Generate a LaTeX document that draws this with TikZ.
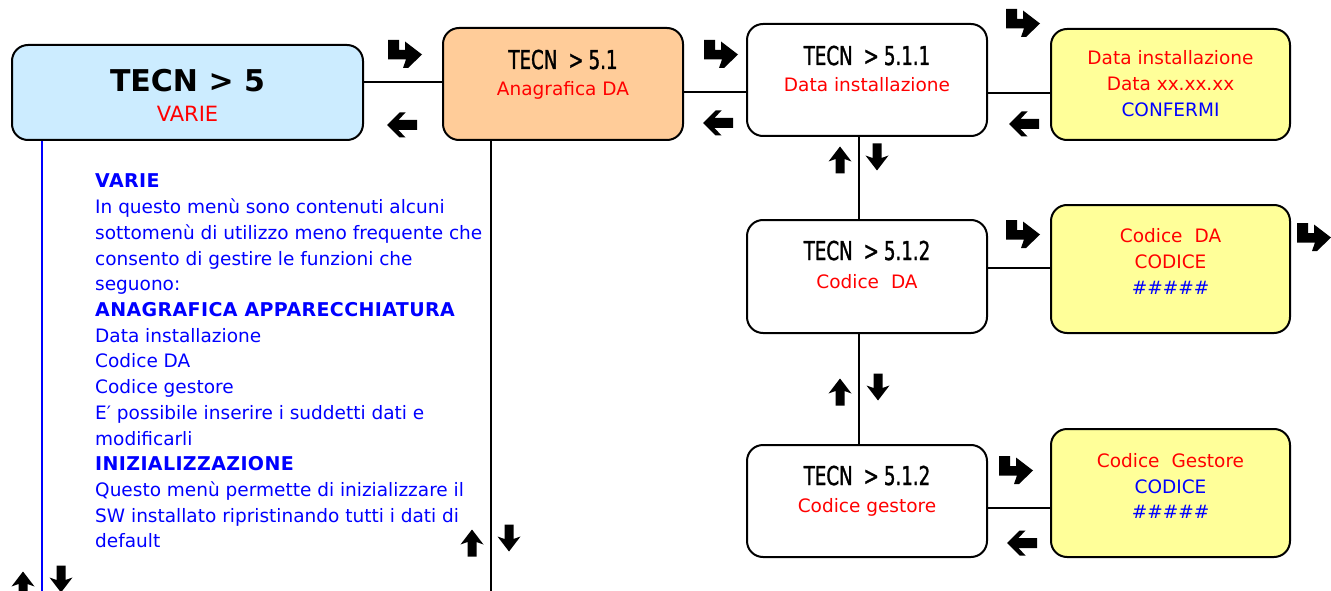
\documentclass[tikz,border=0pt]{standalone}
\usepackage{fontspec}
\setmainfont{DejaVu Sans}
\newfontfamily\condfont{DejaVu Sans}[FakeStretch=0.7, FakeBold=1.2]
\definecolor{boxblue}{HTML}{CCECFF}
\definecolor{boxorange}{HTML}{FFCC99}
\definecolor{boxyellow}{HTML}{FFFF99}
\definecolor{txtred}{HTML}{FF0000}
\definecolor{txtblue}{HTML}{0000FF}
\tikzset{
  box/.style={draw=black, line width=2pt, rounded corners=16pt, inner sep=0pt},
  conn/.style={draw=black, line width=1.5pt},
  ttl/.style={anchor=base, inner sep=0pt, font=\condfont\fontsize{26}{26}\selectfont},
  rtxt/.style={anchor=base, inner sep=0pt, text=txtred, font=\fontsize{18.5}{18.5}\selectfont},
  btxt/.style={anchor=base, inner sep=0pt, text=txtblue, font=\fontsize{18.5}{18.5}\selectfont},
  bodytxt/.style={anchor=base west, inner sep=0pt, text=txtblue, font=\fontsize{18.5}{18.5}\selectfont},
  rarr/.pic={\fill[black] (-17,-14) -- (-6,-14) -- (-6,-4) -- (0,-4) -- (0,-12.5) -- (17,0.5) -- (3,14) -- (-2,14) -- (1,5.5) -- (-17,5.5) -- cycle;},
  larr/.pic={\fill[black] (-15,0) -- (-2.5,-12.5) -- (3.5,-12.5) -- (-3.5,-5) -- (15,-5) -- (15,5) -- (-3.5,5) -- (3.5,12.5) -- (-2.5,12.5) -- cycle;},
  uarr/.pic={\fill[black] (0,-13.5) -- (11.5,1.5) -- (4.5,-1) -- (4.5,13.5) -- (-4.5,13.5) -- (-4.5,-1) -- (-11.5,1.5) -- cycle;},
  darr/.pic={\fill[black] (0,13.5) -- (11.5,-1.5) -- (4.5,1) -- (4.5,-13.5) -- (-4.5,-13.5) -- (-4.5,1) -- (-11.5,-1.5) -- cycle;},
}
\newcommand\boldline[1]{{\fontsize{19}{19}\selectfont\bfseries\addfontfeature{LetterSpace=2}#1}}
\begin{document}
\begin{tikzpicture}[x=1pt,y=-1pt]
\useasboundingbox (0,0) rectangle (1331,591);

% boxes
\node[box, fill=boxblue, minimum width=351pt, minimum height=95pt] (A) at (187.5,92.5) {};
\node[box, fill=boxorange, minimum width=240pt, minimum height=112pt] (B) at (563,84) {};
\node[box, fill=white, minimum width=240pt, minimum height=112pt] (C) at (867,80) {};
\node[box, fill=boxyellow, minimum width=239pt, minimum height=111pt] (D) at (1170.5,84.5) {};
\node[box, fill=white, minimum width=240pt, minimum height=113pt] (E) at (867,276.5) {};
\node[box, fill=boxyellow, minimum width=239pt, minimum height=128pt] (F) at (1170.5,269) {};
\node[box, fill=white, minimum width=240pt, minimum height=112pt] (G) at (867,501) {};
\node[box, fill=boxyellow, minimum width=239pt, minimum height=128pt] (H) at (1170.5,493) {};

% box texts
\node[anchor=base, inner sep=0pt, font=\bfseries\fontsize{30}{30}\selectfont] (Atitle) at (187.5,92) {TECN > 5};
\node[rtxt, font=\fontsize{21}{21}\selectfont] (Asub) at (187.5,122) {VARIE};
\node[ttl] (Btitle) at (563,69) {TECN\hspace{11pt}>\hspace{5pt}5.1};
\node[rtxt] (Bsub) at (563,96) {Anagrafica DA};
\node[ttl] (Ctitle) at (867,65) {TECN\hspace{11pt}>\hspace{5pt}5.1.1};
\node[rtxt] (Csub) at (867,92) {Data installazione};
\node[rtxt] (D1) at (1170.5,65) {Data installazione};
\node[rtxt] (D2) at (1170.5,91) {Data xx.xx.xx};
\node[btxt] (D3) at (1170.5,117) {CONFERMI};
\node[ttl] (Etitle) at (867,260) {TECN\hspace{11pt}>\hspace{5pt}5.1.2};
\node[rtxt] (Esub) at (867,288) {Codice\hspace{12pt}DA};
\node[rtxt] (F1) at (1170.5,242) {Codice\hspace{12pt}DA};
\node[rtxt] (F2) at (1170.5,268) {CODICE};
\node[btxt] (F3) at (1170.5,294) {\#\#\#\#\#};
\node[ttl] (Gtitle) at (867,485) {TECN\hspace{11pt}>\hspace{5pt}5.1.2};
\node[rtxt] (Gsub) at (867,512) {Codice gestore};
\node[rtxt] (H1) at (1170.5,467) {Codice\hspace{12pt}Gestore};
\node[btxt] (H2) at (1170.5,493) {CODICE};
\node[btxt] (H3) at (1170.5,518) {\#\#\#\#\#};

% connectors
\draw[conn] ([yshift=10.5pt]A.east) -- ([yshift=10.5pt]A.east -| B.west);
\draw[conn] ([yshift=-8pt]B.east) -- ([yshift=-8pt]B.east -| C.west);
\draw[conn] ([yshift=-13pt]C.east) -- ([yshift=-13pt]C.east -| D.west);
\draw[conn] ([yshift=8.5pt]E.east) -- ([yshift=8.5pt]E.east -| F.west);
\draw[conn] ([yshift=-7pt]G.east) -- ([yshift=-7pt]G.east -| H.west);
\draw[conn] ([xshift=-8pt]C.south) -- ([xshift=-8pt]C.south |- E.north);
\draw[conn] ([xshift=-8pt]E.south) -- ([xshift=-8pt]E.south |- G.north);
\coordinate (Aend) at (42,591);
\coordinate (Bend) at (491,591);
\draw[line width=2pt, draw=txtblue] (A.south -| Aend) -- (Aend);
\draw[conn] (B.south -| Bend) -- (Bend);

% arrow glyphs
\pic at (405,54) {rarr};
\pic at (402,125) {larr};
\pic at (721,54) {rarr};
\pic at (718,123) {larr};
\pic at (1023,23) {rarr};
\pic at (1024,124) {larr};
\pic at (840,160) {uarr};
\pic at (877,157) {darr};
\pic at (1023,234) {rarr};
\pic at (1314,237) {rarr};
\pic at (840,392) {uarr};
\pic at (878,387) {darr};
\pic at (1016,470) {rarr};
\pic at (1022,543) {larr};
\pic at (23,585) {uarr};
\pic at (61,579) {darr};
\pic at (472,543) {uarr};
\pic at (509,538) {darr};

% description text
\foreach \t [count=\i] in {
  \boldline{VARIE},
  In questo menù sono contenuti alcuni,
  sottomenù di utilizzo meno frequente che,
  consento di gestire le funzioni che,
  seguono:,
  \boldline{ANAGRAFICA APPARECCHIATURA},
  Data installazione,
  Codice DA,
  Codice gestore,
  E′ possibile inserire i suddetti dati e,
  modificarli,
  \boldline{INIZIALIZZAZIONE},
  Questo menù permette di inizializzare il,
  SW installato ripristinando tutti i dati di,
  default}
  \node[bodytxt] (body\i) at (95,{188+25.7*(\i-1)}) {\t};
\end{tikzpicture}
\end{document}
